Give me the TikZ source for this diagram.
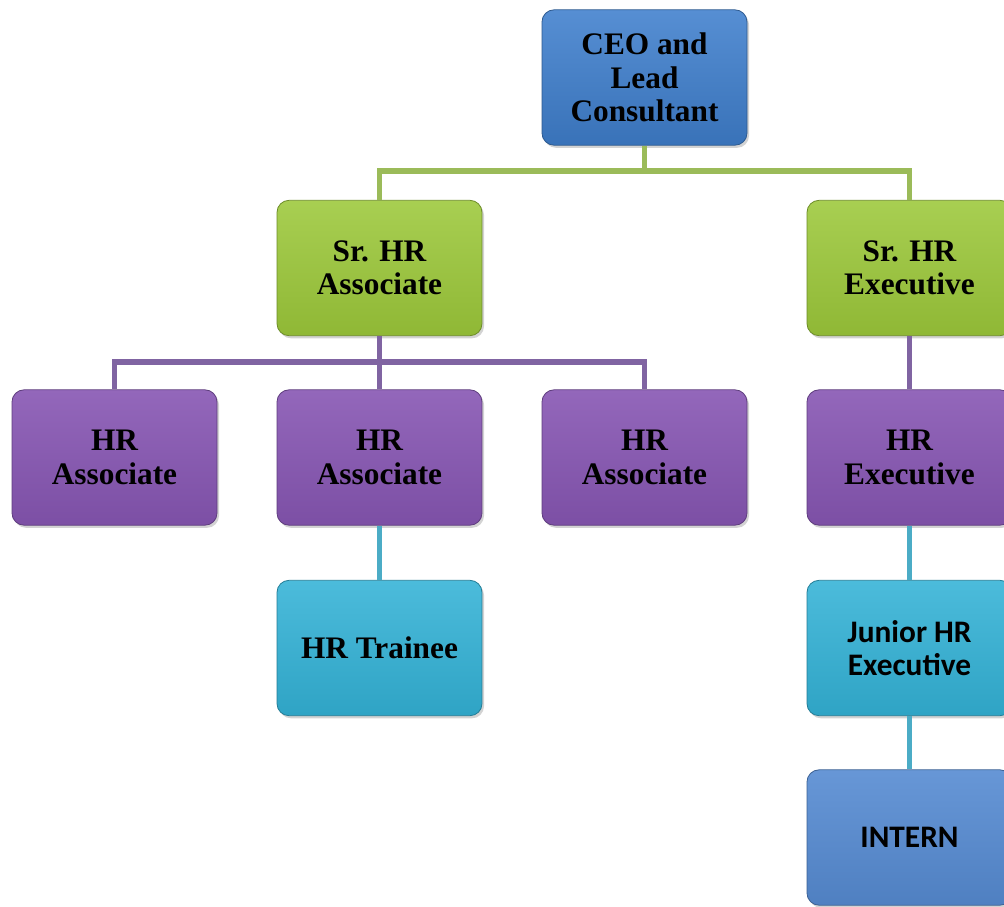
\documentclass[tikz,border=0pt]{standalone}
\usepackage{fontspec}
\setmainfont{Liberation Serif}
\newfontfamily\timesfont{Liberation Serif}
\newfontfamily\calfont{Carlito}
\usetikzlibrary{shadows}
\definecolor{cblue}{HTML}{3F7FCD}
\definecolor{cgreen}{HTML}{9CC83A}
\definecolor{cpurple}{HTML}{8756B3}
\definecolor{ccyan}{HTML}{33B2D6}
\definecolor{cintern}{HTML}{568BD2}
\definecolor{lgreen}{HTML}{9BBB59}
\definecolor{lpurple}{HTML}{8064A2}
\definecolor{lcyan}{HTML}{4BACC6}
\tikzset{
  x=0.75pt, y=-0.75pt,
  box/.style={rounded corners=9pt, minimum width=153.75pt, minimum height=101.5pt,
    align=center, font=\timesfont\bfseries\fontsize{23.5}{25}\selectfont, inner sep=0pt,
    drop shadow={shadow xshift=1.5pt, shadow yshift=-2pt, opacity=0.35}},
  bluebox/.style={box, draw=cblue!70!black, line width=0.6pt, top color=cblue!88!white, bottom color=cblue!90!black},
  greenbox/.style={box, draw=cgreen!70!black, line width=0.6pt, top color=cgreen!88!white, bottom color=cgreen!92!black},
  purplebox/.style={box, draw=cpurple!70!black, line width=0.6pt, top color=cpurple!90!white, bottom color=cpurple!92!black},
  cyanbox/.style={box, draw=ccyan!70!black, line width=0.6pt, top color=ccyan!88!white, bottom color=ccyan!92!black},
  internbox/.style={box, draw=cintern!70!black, line width=0.6pt, top color=cintern!90!white, bottom color=cintern!92!black},
  calibri/.style={font=\calfont\bfseries\fontsize{23.5}{25}\selectfont},
  gline/.style={draw=lgreen, line width=3.8pt},
  pline/.style={draw=lpurple, line width=3.8pt},
  cline/.style={draw=lcyan, line width=3.8pt},
}
\begin{document}
\begin{tikzpicture}
\useasboundingbox (0,0) rectangle (1004,907);
\begin{scope}
\clip (0,0) rectangle (1004,907);
\coordinate (gy) at (0,171);
\coordinate (py) at (0,362);
\node[bluebox] (ceo) at (644.5,77.5) {CEO and\\Lead\\Consultant};
\node[greenbox] (sra) at (379.5,268) {Sr. HR\\Associate};
\node[greenbox] (sre) at (909.5,268) {Sr. HR\\Executive};
\node[purplebox] (hra1) at (114.5,457.5) {HR\\Associate};
\node[purplebox] (hra2) at (379.5,457.5) {HR\\Associate};
\node[purplebox] (hra3) at (644.5,457.5) {HR\\Associate};
\node[purplebox] (hre) at (909.5,457.5) {HR\\Executive};
\node[cyanbox] (trainee) at (379.5,648) {HR Trainee};
\node[cyanbox, calibri] (jhre) at (909.5,648) {Junior HR\\Executive};
\node[internbox, calibri] (intern) at (909.5,837.5) {INTERN};
\draw[gline] (ceo.south) -- (ceo.south |- gy);
\draw[gline, line cap=rect] (sra.north |- gy) -- (sre.north |- gy);
\draw[gline] (sra.north |- gy) -- (sra.north);
\draw[gline] (sre.north |- gy) -- (sre.north);
\draw[pline] (sra.south) -- (sra.south |- py);
\draw[pline, line cap=rect] (hra1.north |- py) -- (hra3.north |- py);
\draw[pline] (hra1.north |- py) -- (hra1.north);
\draw[pline] (hra2.north |- py) -- (hra2.north);
\draw[pline] (hra3.north |- py) -- (hra3.north);
\draw[pline] (sre.south) -- (hre.north);
\draw[cline] (hra2.south) -- (trainee.north);
\draw[cline] (hre.south) -- (jhre.north);
\draw[cline] (jhre.south) -- (intern.north);
\end{scope}
\end{tikzpicture}
\end{document}
